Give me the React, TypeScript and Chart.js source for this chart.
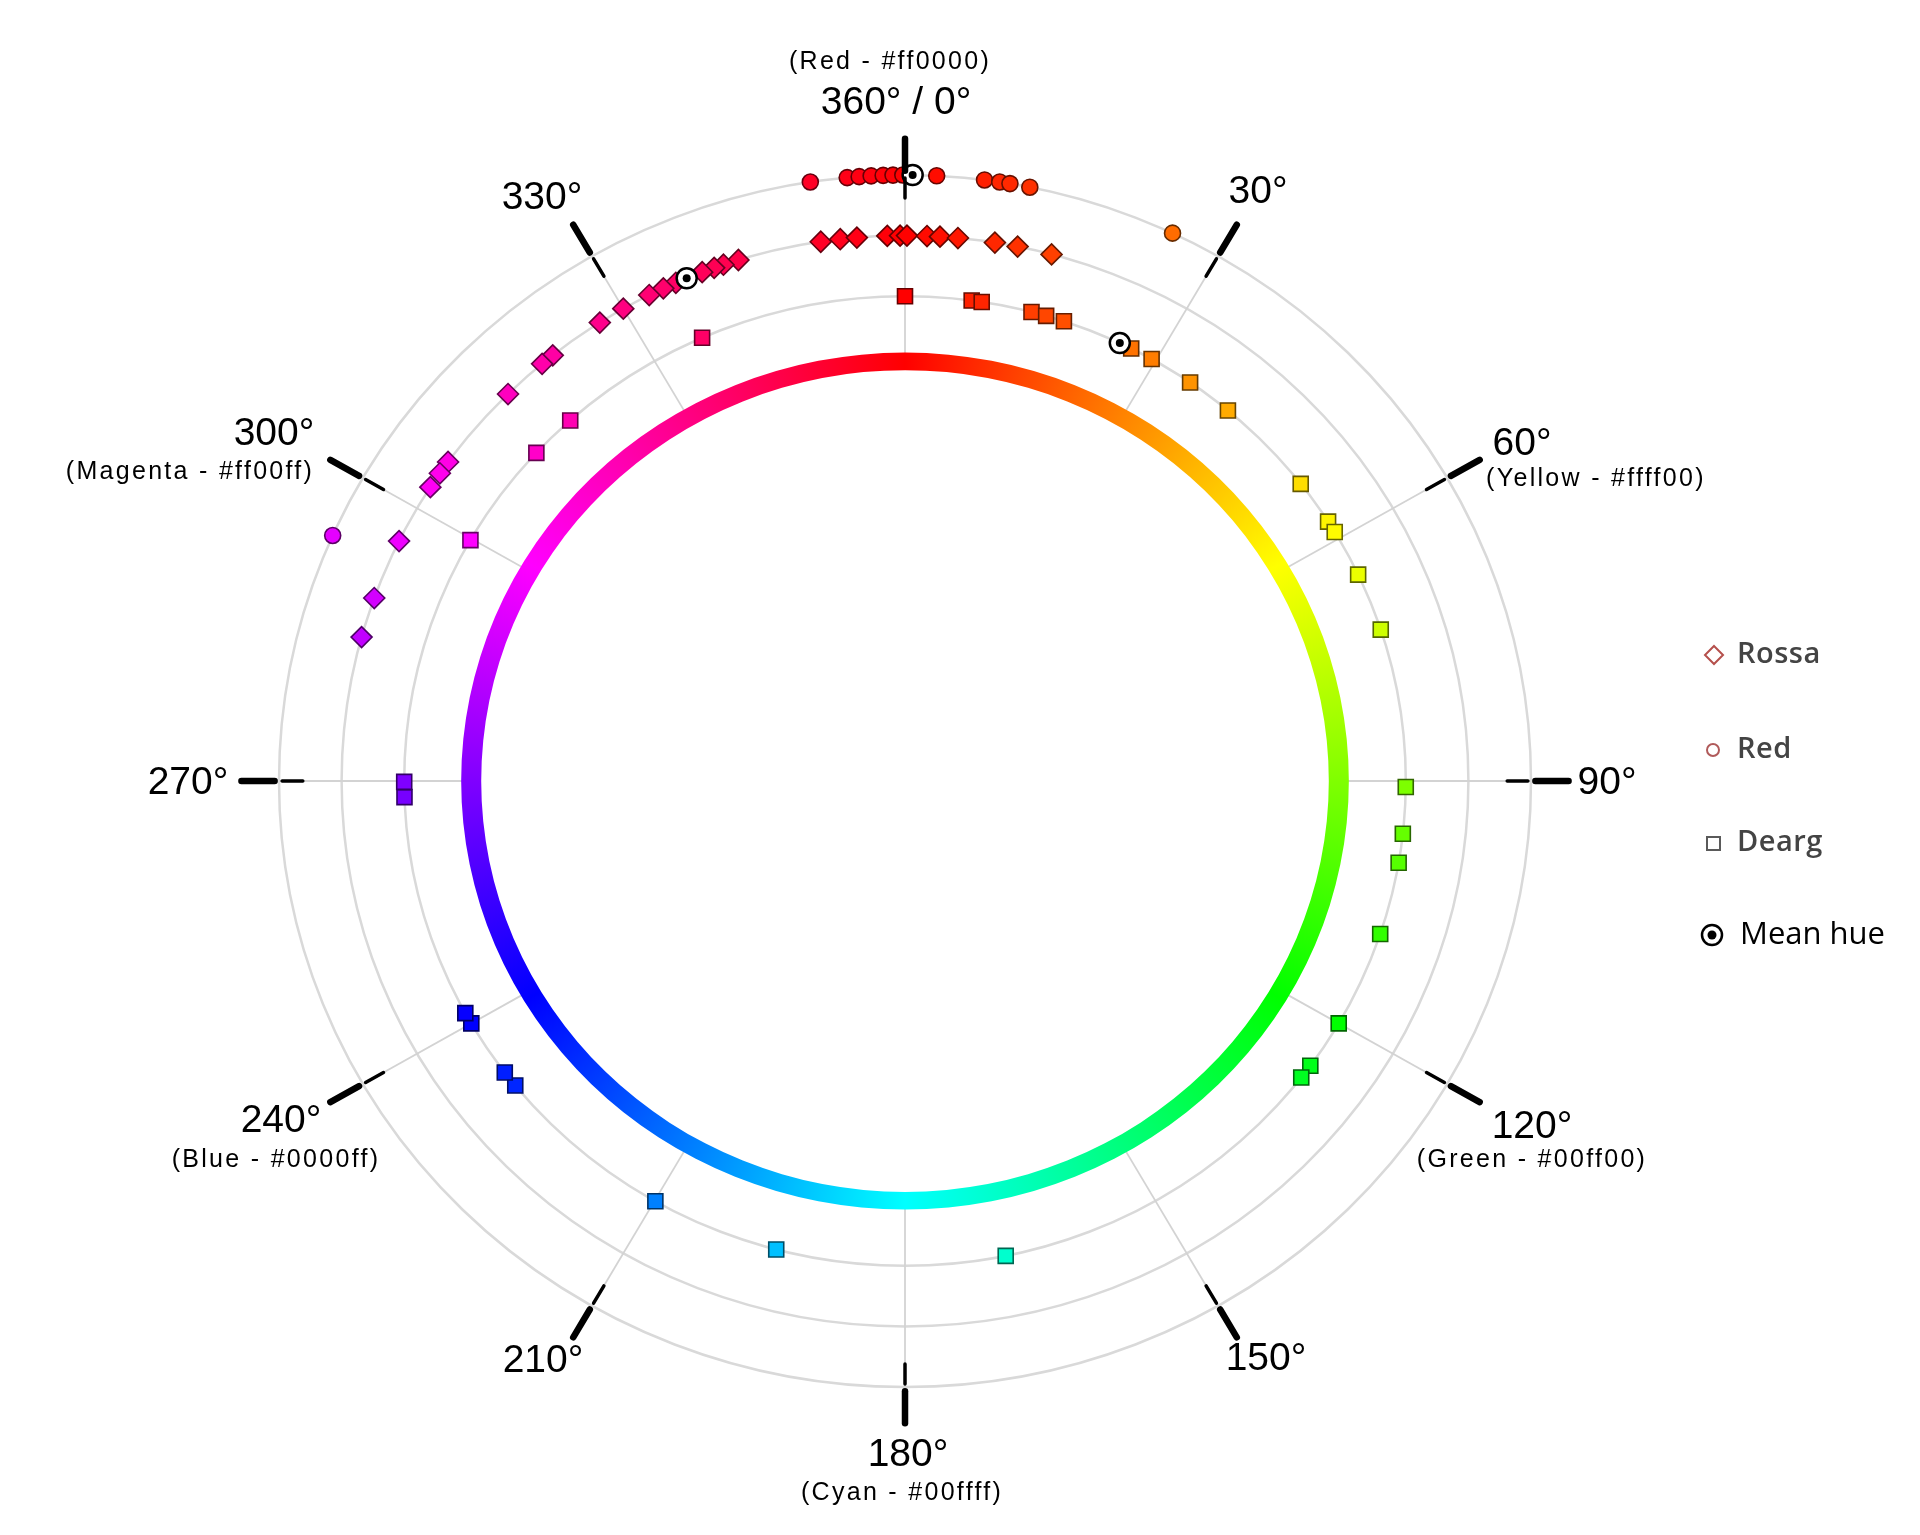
import React, { useEffect, useRef } from "react";
import { Chart, registerables } from "chart.js";

Chart.register(...registerables);

// ---- data (hue angles in degrees) ----
const redHues = [351.3, 354.7, 355.8, 356.9, 358.0, 358.9, 359.8, 2.9, 7.3, 8.7, 9.65, 11.5, 25.3, 293.9];
const rossaHues = [
  351.4, 353.4, 355.1, 358.2, 359.5, 0.2, 2.24, 3.56, 5.39, 9.18, 11.53, 15.08,
  342.8, 341.2, 340.2, 338.9, 336.0, 334.6, 333.0, 330.0, 327.2, 321.3, 319.9, 315.2,
  305.8, 304.35, 302.6, 296.1, 289.6, 285.3,
];
const deargHues = [
  0, 7.65, 8.81, 14.63, 16.37, 18.5, 26.85, 29.5, 34.7, 40.15, 52.2, 57.65, 59.1, 64.8, 71.8,
  90.7, 96.25, 99.7, 108.4, 120.0, 125.97, 127.7, 168.4, 194.9, 209.9, 231.1, 233.05, 240.0,
  241.4, 268.1, 269.9, 299.8, 312.6, 318.05, 336.1,
];
const meanHues = [0.7, 337.2, 25.4];
const meanLevels = [10, 9, 8];
const seriesNames = ["Red", "Rossa", "Dearg"];
const seriesLevels = [10, 9, 8];
const ringLevels = [8, 9, 10];
const tickAngles = [0, 30, 60, 90, 120, 150, 180, 210, 240, 270, 300, 330];
const angleLabels = ["360° / 0°", "30°", "60°", "90°", "120°", "150°", "180°", "210°", "240°", "270°", "300°", "330°"];
const colourLabels = [
  "(Red - #ff0000)", "", "(Yellow - #ffff00)", "", "(Green - #00ff00)", "",
  "(Cyan - #00ffff)", "", "(Blue - #0000ff)", "", "(Magenta - #ff00ff)", "",
];
const legendLabels = ["Rossa", "Red", "Dearg", "Mean hue"];

// ---- helpers ----
const DEG = Math.PI / 180;
const toPoint = (hue: number, level: number) => ({
  x: level * Math.sin(hue * DEG),
  y: level * Math.cos(hue * DEG),
});
const hueFill = (h: number) => `hsl(${h}, 100%, 50%)`;
const hueEdge = (h: number) => `hsl(${h}, 100%, 20%)`;

const MAIN_POS: [number, number][] = [
  [896, 103], [1258, 192], [1522, 444], [1607, 783], [1532, 1127], [1266, 1359],
  [908, 1455], [543, 1361], [281, 1121], [188, 783], [274, 434], [542, 198],
];
const SUB_POS: ([number, number] | null)[] = [
  [890, 62], null, [1596, 479], null, [1532, 1160], null,
  [902, 1493], null, [276, 1160], null, [190, 472], null,
];

const polarPlugin = {
  id: "polarDecor",
  beforeDatasetsDraw(chart: any) {
    const ctx = chart.ctx as CanvasRenderingContext2D;
    const xs = chart.scales.x;
    const ys = chart.scales.y;
    const cx = xs.getPixelForValue(0);
    const cy = ys.getPixelForValue(0);
    const rx = (r: number) => xs.getPixelForValue(r) - cx;
    const ry = (r: number) => cy - ys.getPixelForValue(r);
    const P = (h: number, r: number) => {
      const p = toPoint(h, r);
      return [xs.getPixelForValue(p.x), ys.getPixelForValue(p.y)];
    };
    ctx.save();
    // rings
    ctx.strokeStyle = "#d9d9d9";
    ctx.lineWidth = 2.5;
    ringLevels.forEach((r) => {
      ctx.beginPath();
      ctx.ellipse(cx, cy, rx(r), ry(r), 0, 0, Math.PI * 2);
      ctx.stroke();
    });
    // spokes
    ctx.strokeStyle = "#d3d3d3";
    ctx.lineWidth = 1.8;
    tickAngles.forEach((a) => {
      const [x1, y1] = P(a, 7.0);
      const [x2, y2] = P(a, 10.0);
      ctx.beginPath();
      ctx.moveTo(x1, y1);
      ctx.lineTo(x2, y2);
      ctx.stroke();
    });
    // colour wheel
    const g = (ctx as any).createConicGradient(-Math.PI / 2, cx, cy);
    for (let i = 0; i <= 36; i++) g.addColorStop(i / 36, `hsl(${i * 10}, 100%, 50%)`);
    ctx.fillStyle = g;
    ctx.beginPath();
    ctx.ellipse(cx, cy, rx(7.09), ry(7.07), 0, 0, Math.PI * 2);
    ctx.moveTo(cx + rx(6.77), cy);
    ctx.ellipse(cx, cy, rx(6.77), ry(6.78), 0, 0, Math.PI * 2);
    ctx.fill("evenodd");
    ctx.restore();
  },
  afterDatasetsDraw(chart: any) {
    const ctx = chart.ctx as CanvasRenderingContext2D;
    const xs = chart.scales.x;
    const ys = chart.scales.y;
    const P = (h: number, r: number) => {
      const p = toPoint(h, r);
      return [xs.getPixelForValue(p.x), ys.getPixelForValue(p.y)];
    };
    ctx.save();
    // ticks
    ctx.strokeStyle = "#000";
    ctx.lineCap = "round";
    tickAngles.forEach((a) => {
      let [x1, y1] = P(a, 9.62);
      let [x2, y2] = P(a, 9.95);
      ctx.lineWidth = 3.5;
      ctx.beginPath();
      ctx.moveTo(x1, y1);
      ctx.lineTo(x2, y2);
      ctx.stroke();
      [x1, y1] = P(a, 10.07);
      [x2, y2] = P(a, 10.6);
      ctx.lineWidth = 6.5;
      ctx.beginPath();
      ctx.moveTo(x1, y1);
      ctx.lineTo(x2, y2);
      ctx.stroke();
    });
    // labels
    ctx.fillStyle = "#000";
    ctx.textAlign = "center";
    ctx.textBaseline = "middle";
    angleLabels.forEach((t, i) => {
      ctx.font = '39px "Liberation Sans", Arial, sans-serif';
      (ctx as any).letterSpacing = "0px";
      ctx.fillText(t, MAIN_POS[i][0], MAIN_POS[i][1]);
      const sp = SUB_POS[i];
      if (sp && colourLabels[i]) {
        ctx.font = '25px "Liberation Sans", Arial, sans-serif';
        (ctx as any).letterSpacing = "2.3px";
        ctx.fillText(colourLabels[i], sp[0], sp[1]);
      }
    });
    (ctx as any).letterSpacing = "0px";
    // legend
    const lx = 1714;
    const ly = [655, 750, 843, 935];
    ctx.lineWidth = 2;
    ctx.strokeStyle = "#b5504c";
    ctx.beginPath();
    ctx.moveTo(lx, ly[0] - 9);
    ctx.lineTo(lx + 9, ly[0]);
    ctx.lineTo(lx, ly[0] + 9);
    ctx.lineTo(lx - 9, ly[0]);
    ctx.closePath();
    ctx.stroke();
    ctx.strokeStyle = "#b05a5a";
    ctx.beginPath();
    ctx.arc(lx - 1, ly[1], 6, 0, Math.PI * 2);
    ctx.stroke();
    ctx.strokeStyle = "#5a5a5a";
    ctx.strokeRect(lx - 7, ly[2] - 6, 13, 13);
    ctx.strokeStyle = "#000";
    ctx.lineWidth = 2.5;
    ctx.beginPath();
    ctx.arc(lx - 2, ly[3], 10, 0, Math.PI * 2);
    ctx.stroke();
    ctx.fillStyle = "#000";
    ctx.beginPath();
    ctx.arc(lx - 2, ly[3], 4.5, 0, Math.PI * 2);
    ctx.fill();
    ctx.textAlign = "left";
    ctx.textBaseline = "middle";
    legendLabels.forEach((t, i) => {
      if (i < 3) {
        ctx.font = '600 29px "Open Sans", sans-serif';
        (ctx as any).letterSpacing = "0.5px";
        ctx.fillStyle = "#444";
        ctx.fillText(t, 1737, ly[i]);
      } else {
        ctx.font = '31px "Open Sans", sans-serif';
        (ctx as any).letterSpacing = "0px";
        ctx.fillStyle = "#000";
        ctx.fillText(t, 1740, ly[i]);
      }
    });
    (ctx as any).letterSpacing = "0px";
    ctx.restore();
  },
};

function seriesDataset(name: string, hues: number[], level: number, style: string, radius: number) {
  return {
    label: name,
    data: hues.map((h) => toPoint(h, level)),
    pointStyle: style,
    pointRadius: radius,
    pointHoverRadius: radius,
    pointBackgroundColor: hues.map(hueFill),
    pointBorderColor: hues.map(hueEdge),
    pointBorderWidth: 1.6,
    showLine: false,
  };
}

export default function App() {
  const ref = useRef<HTMLCanvasElement | null>(null);
  useEffect(() => {
    if (!ref.current) return;
    const meanPoints = meanHues.map((h, i) => toPoint(h, meanLevels[i]));
    const chart = new Chart(ref.current, {
      type: "scatter",
      data: {
        datasets: [
          {
            label: "Mean hue dot",
            data: meanPoints,
            pointStyle: "circle",
            pointRadius: 4,
            pointHoverRadius: 4,
            pointBackgroundColor: "#000",
            pointBorderWidth: 0,
            showLine: false,
          },
          {
            label: legendLabels[3],
            data: meanPoints,
            pointStyle: "circle",
            pointRadius: 10,
            pointHoverRadius: 10,
            pointBackgroundColor: "#fff",
            pointBorderColor: "#000",
            pointBorderWidth: 2.5,
            showLine: false,
          },
          seriesDataset(seriesNames[0], redHues, seriesLevels[0], "circle", 8),
          seriesDataset(seriesNames[1], rossaHues, seriesLevels[1], "rectRot", 10.5),
          seriesDataset(seriesNames[2], deargHues, seriesLevels[2], "rect", 10.6),
        ] as any,
      },
      options: {
        responsive: false,
        animation: false,
        devicePixelRatio: 1,
        events: [],
        layout: { padding: 0, autoPadding: false },
        plugins: { legend: { display: false }, tooltip: { enabled: false } },
        scales: {
          x: { type: "linear", min: -14.457, max: 16.214, display: false },
          y: { type: "linear", min: -12.442, max: 12.888, display: false },
        },
      },
      plugins: [polarPlugin as any],
    });
    return () => chart.destroy();
  }, []);
  return (
    <div style={{ position: "absolute", left: 0, top: 0, width: 1920, height: 1535, background: "#fff" }}>
      <canvas ref={ref} width={1920} height={1535} style={{ width: 1920, height: 1535, display: "block" }} />
    </div>
  );
}
